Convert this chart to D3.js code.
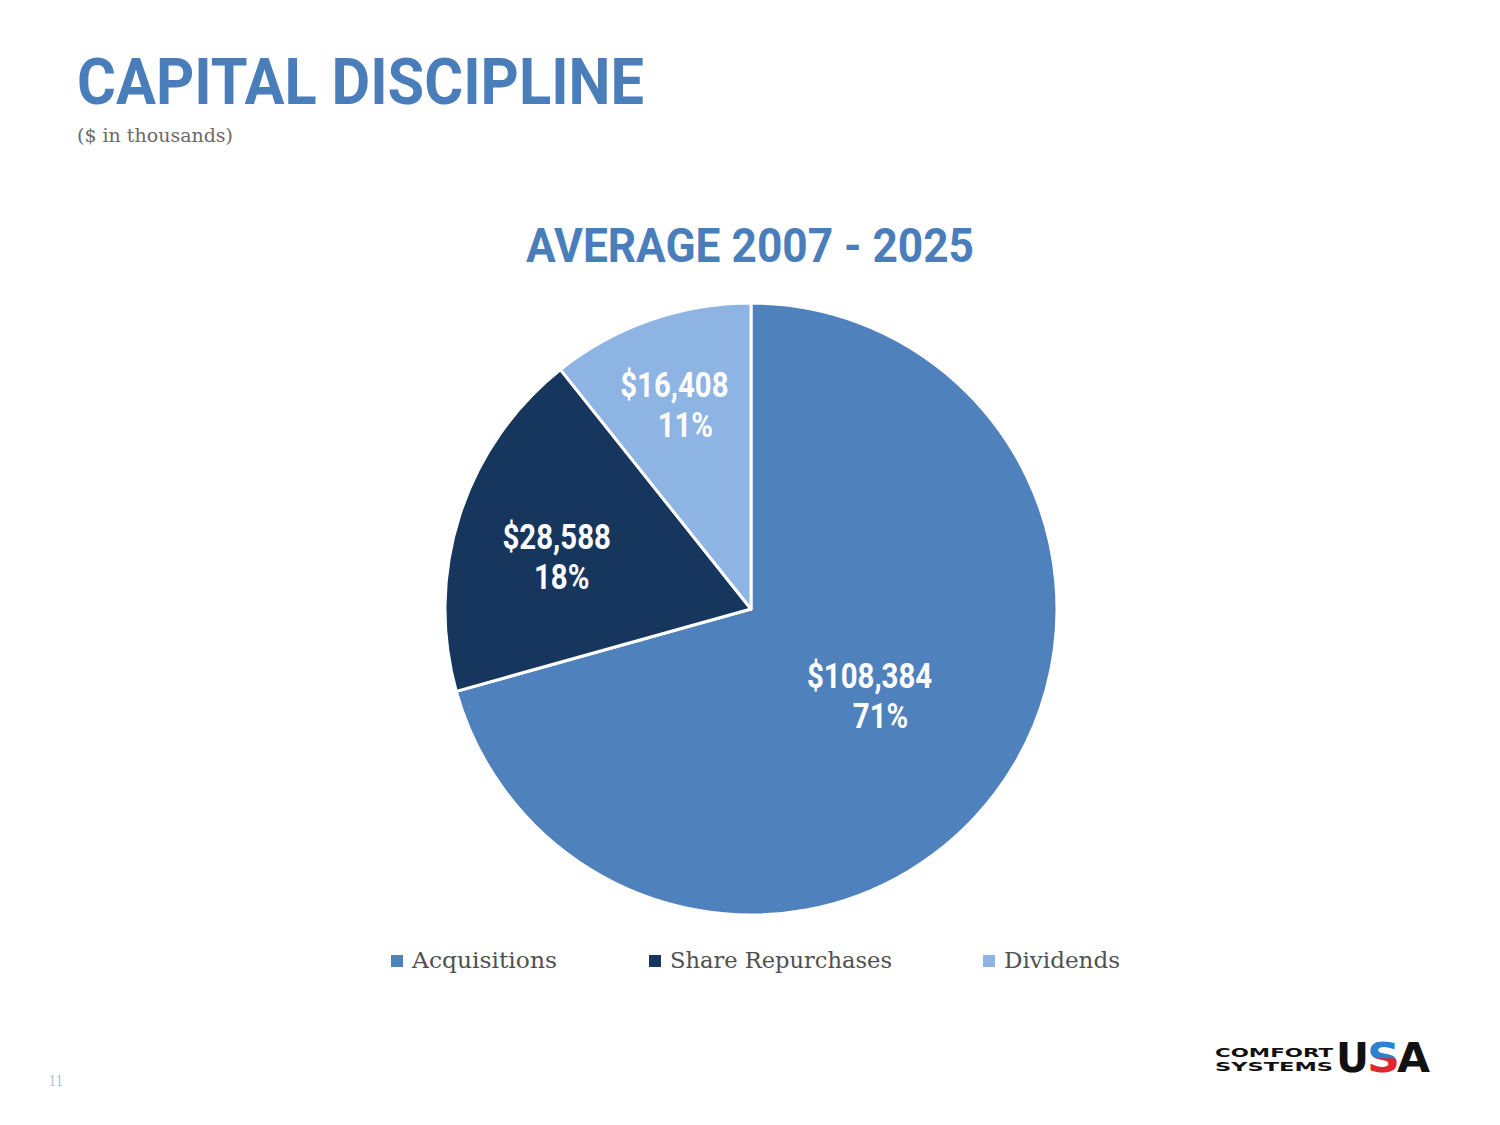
<!DOCTYPE html>
<html>
<head>
<meta charset="utf-8">
<script src="https://cdn.jsdelivr.net/npm/d3@7"></script>
<style>
  html, body { margin: 0; padding: 0; background: #ffffff; }
  svg { display: block; }
</style>
</head>
<body>
<svg id="chart" width="1500" height="1125"></svg>
<script>
// ---- data ----
const categories = ["Acquisitions", "Share Repurchases", "Dividends"];
const values = [108384, 28588, 16408];
const valueLabels = ["$108,384", "$28,588", "$16,408"];
const percentLabels = ["71%", "18%", "11%"];

const pageTitle = "CAPITAL DISCIPLINE";
const pageSubtitle = "($ in thousands)";
const chartTitle = "AVERAGE 2007 - 2025";
const pageNumber = "11";

// ---- styles / layout ----
const colors = ["#4F81BD", "#17365D", "#8EB4E3"];
const titleBlue = "#4A7EBB";
const cx = 751, cy = 609, R = 306;
const labelRadiusFrac = [0.47, 0.64, 0.70];
const labelNudge = [[4, -8], [-8, 0], [-6, -10]];
const secondLineDx = [11, 5, 11];
const condensed = 0.84;
const serif = "'DejaVu Serif', 'Liberation Serif', serif";
const sans = "Roboto, 'Noto Sans', sans-serif";

const svg = d3.select("#chart");

svg.append("rect").attr("width", 1500).attr("height", 1125).attr("fill", "#ffffff");

// condensed text helper
function condText(g, txt, x, y, size, anchor, fill, sx) {
  return g.append("text")
    .attr("transform", `translate(${x},${y}) scale(${sx || condensed},1)`)
    .attr("text-anchor", anchor)
    .attr("font-family", sans)
    .attr("font-weight", 700)
    .attr("font-size", size)
    .attr("fill", fill)
    .text(txt);
}
function fitText(g, txt, x, y, size, len, fill) {
  return g.append("text")
    .attr("x", x).attr("y", y)
    .attr("font-family", sans)
    .attr("font-weight", 700)
    .attr("font-size", size)
    .attr("fill", fill)
    .attr("textLength", len).attr("lengthAdjust", "spacingAndGlyphs")
    .text(txt);
}

// page title
fitText(svg, pageTitle, 77, 104, 64, 567, titleBlue);
svg.append("text")
  .attr("x", 77).attr("y", 142)
  .attr("font-family", serif).attr("font-size", 19)
  .attr("font-weight", 300)
  .attr("fill", "#6a6a6a")
  .attr("textLength", 156).attr("lengthAdjust", "spacingAndGlyphs")
  .text(pageSubtitle);

// chart title
fitText(svg, chartTitle, 526, 262, 49, 448, titleBlue);

// pie
const pie = d3.pie().sort(null).value(d => d);
const arcs = pie(values);
const arc = d3.arc().innerRadius(0).outerRadius(R);

const g = svg.append("g").attr("transform", `translate(${cx},${cy})`);
g.selectAll("path.slice")
  .data(arcs)
  .join("path")
  .attr("class", "slice")
  .attr("d", arc)
  .attr("fill", (d, i) => colors[i])
  .attr("stroke", "#ffffff")
  .attr("stroke-width", 3)
  .attr("stroke-linejoin", "round");

arcs.forEach((d, i) => {
  const r = labelRadiusFrac[i] * R;
  const c = d3.arc().innerRadius(r).outerRadius(r).centroid(d);
  const x = c[0] + labelNudge[i][0];
  const y = c[1] + labelNudge[i][1];
  condText(g, valueLabels[i], x, y, 35, "middle", "#ffffff");
  condText(g, percentLabels[i], x + secondLineDx[i], y + 40, 35, "middle", "#ffffff");
});

// legend
const legendX = [391, 649, 983];
const legendTextW = [145, 222, 116];
const lg = svg.append("g");
categories.forEach((c, i) => {
  lg.append("rect")
    .attr("x", legendX[i]).attr("y", 955)
    .attr("width", 12).attr("height", 12)
    .attr("fill", colors[i]);
  lg.append("text")
    .attr("x", legendX[i] + 21).attr("y", 968)
    .attr("font-family", serif).attr("font-size", 23)
    .attr("font-weight", 300)
    .attr("fill", "#505050")
    .attr("textLength", legendTextW[i]).attr("lengthAdjust", "spacingAndGlyphs")
    .text(c);
});

// page number
svg.append("text")
  .attr("x", 49).attr("y", 1086)
  .attr("font-family", serif).attr("font-size", 15)
  .attr("fill", "#A9BCD6")
  .attr("textLength", 14).attr("lengthAdjust", "spacingAndGlyphs")
  .text(pageNumber);

// logo
const defs = svg.append("defs");
const grad = defs.append("linearGradient").attr("id", "sgrad")
  .attr("x1", 0).attr("y1", 0).attr("x2", 0).attr("y2", 1);
grad.append("stop").attr("offset", "0%").attr("stop-color", "#2F80D0");
grad.append("stop").attr("offset", "48%").attr("stop-color", "#2F80D0");
grad.append("stop").attr("offset", "52%").attr("stop-color", "#E0262F");
grad.append("stop").attr("offset", "100%").attr("stop-color", "#E0262F");

const logo = svg.append("g");
["COMFORT", "SYSTEMS"].forEach((t, i) => {
  logo.append("text")
    .attr("x", 1215).attr("y", 1057 + i * 14)
    .attr("font-family", "'DejaVu Sans', sans-serif").attr("font-weight", 700)
    .attr("font-size", 12)
    .attr("fill", "#111111")
    .attr("textLength", 118).attr("lengthAdjust", "spacingAndGlyphs")
    .text(t);
});
const usaX = [1336, 1367, 1397];
const usaFill = ["#111111", "url(#sgrad)", "#111111"];
["U", "S", "A"].forEach((t, i) => {
  logo.append("text")
    .attr("x", usaX[i]).attr("y", 1072)
    .attr("font-family", "'DejaVu Sans', sans-serif").attr("font-weight", 700)
    .attr("font-size", 41)
    .attr("fill", usaFill[i])
    .attr("textLength", 33).attr("lengthAdjust", "spacingAndGlyphs")
    .text(t);
});
</script>
</body>
</html>
